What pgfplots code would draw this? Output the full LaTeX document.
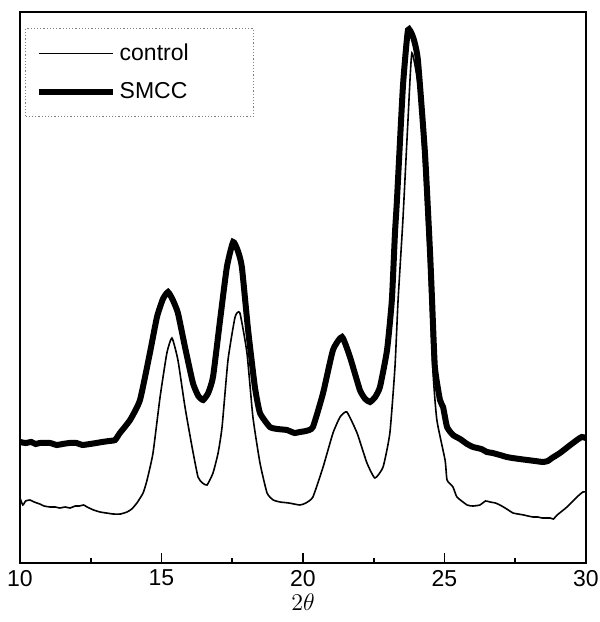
\documentclass[border=0pt]{standalone}
\usepackage{fontspec}
\setmainfont{Liberation Sans}
\usepackage{pgfplots}
\pgfplotsset{compat=1.18}
\begin{document}
\begin{tikzpicture}
\begin{axis}[
  scale only axis,
  width=283pt, height=275.5pt,
  xmin=10, xmax=30, ymin=0, ymax=551,
  xtick={10,15,20,25,30},
  minor x tick num=1,
  ytick=\empty,
  xtick pos=bottom,
  tick align=inside,
  major tick length=5pt,
  minor tick length=2.5pt,
  every tick/.style={black, line width=0.8pt},
  axis line style={line width=1pt},
  /pgf/number format/assume math mode=true,
  tick label style={font=\fontsize{11.5}{13}\selectfont},
  xlabel={$2\theta$},
  xlabel style={font=\fontsize{12.5}{14}\selectfont, yshift=3pt},
  legend cell align=left,
  legend style={at={(0.009,0.971)}, anchor=north west,
    draw=gray, densely dotted, line width=0.6pt,
    font=\fontsize{11.5}{13}\selectfont,
    row sep=5.5pt, inner xsep=5pt, inner ysep=5.5pt},
  legend image code/.code={\draw[#1, solid] (0pt,0pt) -- (37pt,0pt);},
]
\addplot[black, line width=0.8pt, smooth, tension=0.3] coordinates {
(10.00,65) (10.10,58) (10.20,62) (10.35,63) (10.50,61) (10.70,59) (10.85,57) (11.06,56) (11.25,56) (11.40,55) (11.60,56) (11.77,55) (11.95,57) (12.10,57) (12.25,58) (12.37,56) (12.60,53) (12.83,51) (13.05,50) (13.29,49) (13.55,49) (13.78,51) (13.95,54) (14.13,60) (14.35,70) (14.49,83) (14.70,110) (14.95,166) (15.19,210) (15.37,225) (15.58,203) (15.83,156) (16.08,116) (16.29,86) (16.45,80) (16.61,78) (16.82,90) (17.00,110) (17.14,136) (17.35,203) (17.60,246) (17.77,250) (18.02,210) (18.23,146) (18.48,100) (18.73,70) (18.95,63) (19.19,61) (19.50,60) (19.89,58) (20.10,60) (20.35,66) (20.71,96) (21.06,130) (21.31,146) (21.55,151) (21.91,130) (22.26,100) (22.54,85) (22.83,96) (23.07,130) (23.25,196) (23.36,263) (23.53,343) (23.71,443) (23.85,510) (24.13,463) (24.42,313) (24.59,193) (24.73,143) (25.02,103) (25.09,83) (25.30,76) (25.44,66) (25.80,58) (26.00,57) (26.25,58) (26.45,62) (26.61,61) (26.80,60) (26.96,58) (27.20,54) (27.42,50) (27.60,49) (27.80,48) (27.95,47) (28.13,46) (28.30,46) (28.45,45) (28.73,45) (28.85,44) (28.98,48) (29.33,56) (29.68,66) (29.89,71) (30.00,71)
};
\addlegendentry{\makebox[60pt][l]{control}}
\addplot[black, line width=3pt, smooth, tension=0.3] coordinates {
(10.00,121) (10.20,120) (10.40,121) (10.55,119) (10.70,120) (11.06,120) (11.30,118) (11.50,119) (11.75,120) (12.00,120) (12.20,118) (12.47,119) (12.70,120) (12.90,121) (13.15,122) (13.36,123) (13.53,130) (13.89,143) (14.24,163) (14.59,210) (14.84,246) (15.05,264) (15.23,271) (15.40,263) (15.58,250) (15.83,216) (16.11,180) (16.30,167) (16.47,163) (16.65,170) (16.82,186) (17.07,243) (17.31,296) (17.53,321) (17.70,312) (17.84,296) (18.06,233) (18.30,176) (18.48,150) (18.83,136) (19.10,134) (19.43,133) (19.70,130) (19.89,131) (20.10,132) (20.35,136) (20.71,170) (21.06,213) (21.38,226) (21.66,206) (22.01,173) (22.20,164) (22.37,161) (22.55,166) (22.72,176) (22.97,213) (23.14,263) (23.25,330) (23.32,363) (23.53,476) (23.71,533) (23.90,525) (24.06,503) (24.31,410) (24.49,310) (24.56,263) (24.66,196) (24.84,163) (24.95,156) (25.09,136) (25.30,128) (25.55,124) (25.80,119) (26.01,116) (26.30,114) (26.50,111) (26.70,110) (26.96,108) (27.20,106) (27.40,105) (27.65,104) (27.92,103) (28.20,102) (28.48,101) (28.65,102) (28.80,105) (29.08,110) (29.40,117) (29.68,123) (29.85,126) (30.00,125)
};
\addlegendentry{\makebox[60pt][l]{SMCC}}
\coordinate (bl) at (rel axis cs:0,0);
\coordinate (tr) at (rel axis cs:1,1);
\end{axis}
\pgfresetboundingbox
\path (bl) ++(-10pt,-29.5pt) coordinate (A);
\path (tr) ++(7pt,6pt) coordinate (B);
\path[use as bounding box] (A) rectangle (B);
\end{tikzpicture}
\end{document}
